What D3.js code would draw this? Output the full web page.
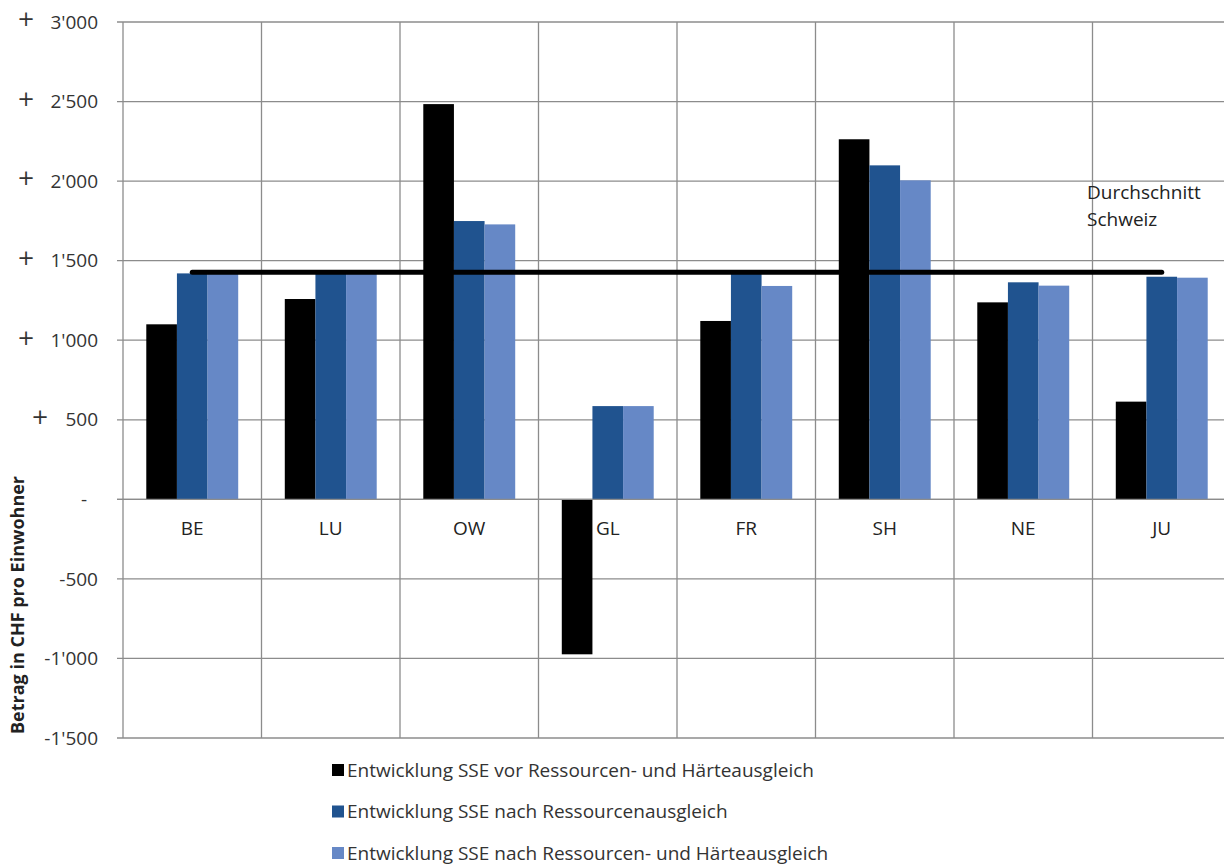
<!DOCTYPE html>
<html><head><meta charset="utf-8">
<script src="https://cdn.jsdelivr.net/npm/d3@7"></script>
<style>
body{margin:0;background:#fff;}
svg{display:block;font-family:"Open Sans","Noto Sans",sans-serif;}
text{white-space:pre;}
</style></head>
<body><svg id="c" width="1224" height="866"></svg>
<script>
const categories = ["BE","LU","OW","GL","FR","SH","NE","JU"];
const seriesNames = [
  "Entwicklung SSE vor Ressourcen- und Härteausgleich",
  "Entwicklung SSE nach Ressourcenausgleich",
  "Entwicklung SSE nach Ressourcen- und Härteausgleich"
];
const vorAusgleich   = [1100, 1259, 2484, -974, 1121, 2263, 1238, 614];
const nachRessourcen = [1420, 1440, 1749,  586, 1430, 2099, 1364, 1399];
const nachBeiden     = [1420, 1440, 1728,  586, 1341, 2005, 1343, 1393];
const durchschnittSchweiz = 1427;
const yTicks = [-1500,-1000,-500,0,500,1000,1500,2000,2500,3000];
const colors = ["#000000","#20538f","#6688c6"];

const series = [vorAusgleich, nachRessourcen, nachBeiden];
const svg = d3.select("#c");
const L = 123, R = 1231, T = 22, B = 738;
const FS = 19;

const x0 = d3.scaleBand().domain(categories).range([L, R]).padding(0);
const x1 = d3.scaleBand().domain(d3.range(3)).range([0, x0.bandwidth()]).paddingInner(0).paddingOuter(0.76);
const y = d3.scaleLinear().domain([-1500, 3000]).range([B, T]);

const loc = d3.formatLocale({decimal: ".", thousands: "'", grouping: [3], currency: ["", ""], minus: "-"});
const f = loc.format(",d");
const grid = "#8c8c8c";

// horizontal gridlines with left ticks
svg.append("g").selectAll("line").data(yTicks).join("line")
  .attr("x1", L - 6).attr("x2", 1224)
  .attr("y1", d => y(d)).attr("y2", d => y(d))
  .attr("stroke", grid).attr("stroke-width", 1.3);

// vertical gridlines at category boundaries
const bounds = categories.map(c => x0(c));
svg.append("g").selectAll("line").data(bounds).join("line")
  .attr("x1", d => d).attr("x2", d => d)
  .attr("y1", T).attr("y2", B)
  .attr("stroke", grid).attr("stroke-width", 1.3);

// y tick labels
const yl = svg.append("g").attr("font-size", FS).attr("fill", "#333");
yTicks.forEach(v => {
  if (v > 0) {
    yl.append("text").attr("x", 98).attr("y", y(v)).attr("dy", "0.35em")
      .attr("text-anchor", "end").text(f(v));
    yl.append("text").attr("x", v >= 1000 ? 26 : 40).attr("y", y(v) - 3).attr("dy", "0.35em")
      .attr("text-anchor", "middle").attr("font-family", "DejaVu Sans").attr("font-size", 21)
      .text("+");
  } else if (v === 0) {
    yl.append("text").attr("x", 84).attr("y", y(v)).attr("dy", "0.35em")
      .attr("text-anchor", "middle").text("-");
  } else {
    yl.append("text").attr("x", 98).attr("y", y(v)).attr("dy", "0.35em")
      .attr("text-anchor", "end").text(f(v));
  }
});

// bars
const gBars = svg.append("g");
categories.forEach((c, i) => {
  series.forEach((s, k) => {
    const v = s[i];
    gBars.append("rect")
      .attr("x", x0(c) + x1(k))
      .attr("width", x1.bandwidth())
      .attr("y", y(Math.max(0, v)))
      .attr("height", Math.abs(y(v) - y(0)))
      .attr("fill", colors[k]);
  });
});

// zero line on top of bars
svg.append("line").attr("x1", L - 6).attr("x2", 1224)
  .attr("y1", y(0)).attr("y2", y(0)).attr("stroke", grid).attr("stroke-width", 1.3);

// average line
svg.append("line")
  .attr("x1", x0(categories[0]) + x0.bandwidth() / 2)
  .attr("x2", x0(categories[categories.length - 1]) + x0.bandwidth() / 2)
  .attr("y1", y(durchschnittSchweiz)).attr("y2", y(durchschnittSchweiz))
  .attr("stroke", "#000").attr("stroke-width", 5).attr("stroke-linecap", "round");

svg.append("text").attr("x", 1087).attr("y", 199).attr("font-size", FS).attr("fill", "#222").text("Durchschnitt");
svg.append("text").attr("x", 1087).attr("y", 226).attr("font-size", FS).attr("fill", "#222").text("Schweiz");

// category labels
svg.append("g").selectAll("text").data(categories).join("text")
  .attr("x", d => x0(d) + x0.bandwidth() / 2).attr("y", y(0) + 36)
  .attr("text-anchor", "middle").attr("font-size", FS).attr("fill", "#222")
  .text(d => d);

// y axis title
svg.append("text").attr("transform", "translate(24,605) rotate(-90)")
  .attr("text-anchor", "middle").attr("font-size", 18).attr("font-weight", "bold").attr("fill", "#222")
  .text("Betrag in CHF pro Einwohner");

// legend
const lg = svg.append("g");
seriesNames.forEach((n, k) => {
  const cy = 770 + k * 41.5;
  lg.append("rect").attr("x", 332).attr("y", cy - 6).attr("width", 12).attr("height", 12).attr("fill", colors[k]);
  lg.append("text").attr("x", 347).attr("y", cy).attr("dy", "0.35em").attr("font-size", FS).attr("fill", "#333").text(n);
});
</script></body></html>
